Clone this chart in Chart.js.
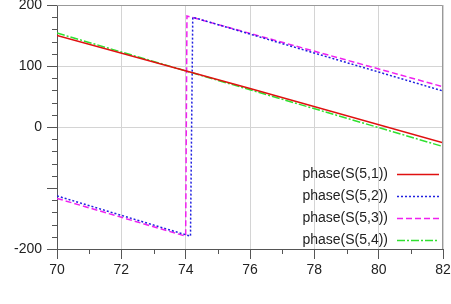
<!DOCTYPE html>
<html>
<head>
<meta charset="utf-8">
<script src="https://cdn.jsdelivr.net/npm/chart.js@4"></script>
<style>
  html, body { margin: 0; padding: 0; background: white; }
  #wrap { width: 451px; height: 304px; }
</style>
</head>
<body>
<div id="wrap"><canvas id="myChart" width="451" height="304"></canvas></div>
<script>
// values (x = frequency, y = phase in degrees)
const labels = ["phase(S(5,1))", "phase(S(5,2))", "phase(S(5,3))", "phase(S(5,4))"]
const s51x = [70, 76, 82]
const s51y = [150, 63, -26]
const s52x = [70, 74.15, 74.22, 82]
const s52y = [-113, -179, 180, 59]
const s53x = [70, 74.0, 74.04, 82]
const s53y = [-117, -179, 182, 66]
const s54x = [70, 76, 82]
const s54y = [154, 61, -32]
const xTicks = [70, 72, 74, 76, 78, 80, 82]
const yTicks = [-200, -100, 0, 100, 200]
const yHidden = [-100]

const colors = ["#e01010", "#2020e0", "#f020f0", "#30e030"]
const dashes = [[], [2, 2], [6, 3], [8, 2, 2, 2]]

const pts = (xs, ys) => xs.map((x, i) => ({x: x, y: ys[i]}))
const series = [pts(s51x, s51y), pts(s52x, s52y), pts(s53x, s53y), pts(s54x, s54y)]

const datasets = series.map((d, i) => ({
    label: labels[i],
    data: d,
    borderColor: colors[i],
    borderWidth: 1.5,
    borderDash: dashes[i],
    pointRadius: 0,
    tension: 0,
    fill: false
}))

// minor ticks, frame and legend drawn on top
const extras = {
    id: "extras",
    afterDraw(chart) {
        const ctx = chart.ctx
        const a = chart.chartArea
        const xs = chart.scales.x
        const ys = chart.scales.y
        ctx.save()
        ctx.strokeStyle = "#999"
        ctx.lineWidth = 1
        ctx.beginPath()
        ctx.moveTo(a.left, a.top + 0.5)
        ctx.lineTo(a.right - 0.5, a.top + 0.5)
        ctx.lineTo(a.right - 0.5, a.bottom)
        ctx.stroke()

        ctx.strokeStyle = "#555"
        ctx.beginPath()
        for (let v = 71; v < 82; v += 2) {
            const px = Math.round(xs.getPixelForValue(v)) + 0.5
            ctx.moveTo(px, a.bottom)
            ctx.lineTo(px, a.bottom + 5)
        }
        for (let v = -180; v < 200; v += 20) {
            if (v % 100 === 0) continue
            const py = Math.round(ys.getPixelForValue(v)) + 0.5
            ctx.moveTo(a.left - 5, py)
            ctx.lineTo(a.left, py)
        }
        ctx.stroke()

        // legend
        ctx.font = "14px 'Liberation Sans', Arial, sans-serif"
        ctx.textAlign = "right"
        ctx.textBaseline = "middle"
        const rowY = [174, 196, 218, 240]
        datasets.forEach((ds, i) => {
            ctx.fillStyle = "#222"
            ctx.fillText(ds.label, 388, rowY[i])
            ctx.strokeStyle = ds.borderColor
            ctx.lineWidth = 1.5
            ctx.setLineDash(ds.borderDash)
            ctx.beginPath()
            ctx.moveTo(397, rowY[i] + 0.5)
            ctx.lineTo(439, rowY[i] + 0.5)
            ctx.stroke()
            ctx.setLineDash([])
        })
        ctx.restore()
    }
}

const font = {family: "'Liberation Sans', Arial, sans-serif", size: 14}

const config = {
    type: "line",
    data: {datasets},
    options: {
        responsive: false,
        animation: false,
        layout: {padding: {top: 5, right: 8, left: 0, bottom: 0}},
        plugins: {legend: {display: false}, tooltip: {enabled: false}},
        scales: {
            x: {
                type: "linear",
                min: 70,
                max: 82,
                afterBuildTicks: (s) => { s.ticks = xTicks.map(v => ({value: v})) },
                ticks: {font, color: "#222", padding: 3, autoSkip: false, maxRotation: 0},
                grid: {color: "#d4d4d4", tickColor: "#555", tickLength: 10},
                border: {color: "#555", width: 1},
                afterFit: (s) => { s.height = 55; s.paddingLeft = 0; s.paddingRight = 0 }
            },
            y: {
                min: -200,
                max: 200,
                afterBuildTicks: (s) => { s.ticks = yTicks.map(v => ({value: v})) },
                ticks: {
                    font, color: "#222", padding: 5, autoSkip: false,
                    callback: (v) => yHidden.includes(v) ? "" : String(v)
                },
                grid: {
                    color: (c) => yHidden.includes(c.tick && c.tick.value) ? "rgba(0,0,0,0)" : "#d4d4d4",
                    tickColor: "#555",
                    tickLength: 10
                },
                border: {color: "#555", width: 1},
                afterFit: (s) => { s.width = 57; s.paddingTop = 0; s.paddingBottom = 0 }
            }
        }
    },
    plugins: [extras]
}

const myChart = new Chart(document.getElementById("myChart"), config)
</script>
</body>
</html>
